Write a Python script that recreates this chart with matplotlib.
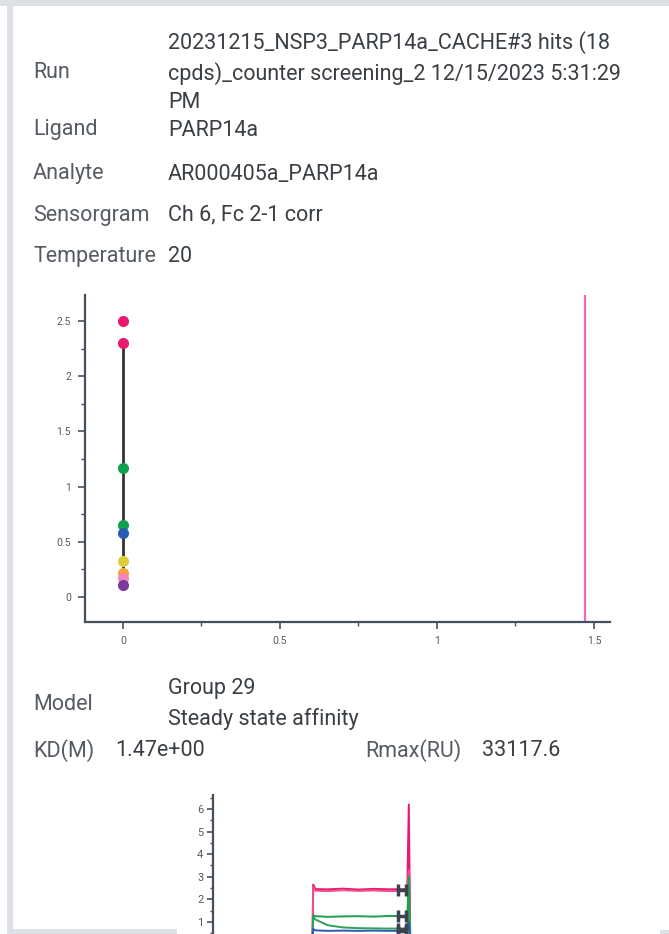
import numpy as np
import matplotlib.pyplot as plt
from matplotlib.patches import Rectangle
from matplotlib.ticker import MultipleLocator

# header info
info_labels = ["Run", "Ligand", "Analyte", "Sensorgram", "Temperature"]
info_values = ["20231215_NSP3_PARP14a_CACHE#3 hits (18\ncpds)_counter screening_2 12/15/2023 5:31:29\nPM",
               "PARP14a", "AR000405a_PARP14a", "Ch 6, Fc 2-1 corr", "20"]
model_lines = ["Group 29", "Steady state affinity"]
kd_text = "1.47e+00"
rmax_text = "33117.6"

# affinity plot: response at each concentration
conc = [0, 0, 0, 0, 0, 0, 0, 0, 0]
resp = [2.50, 2.30, 1.17, 0.65, 0.58, 0.33, 0.22, 0.17, 0.11]
point_colors = ['#e8196e', '#e8196e', '#13a04c', '#13a04c', '#2a5cb4',
                '#dccd3c', '#f5a23a', '#ef85bb', '#7a3a9c']
fit_x = [0, 0]
fit_y = [0.07, 2.30]
kd = 1.47

# sensorgram curves (time s, response RU)
sg_t = [-60, 0, 0.5, 2, 10, 20, 30, 40, 50, 62, 63, 64, 65, 70, 90]
sg_curves = {
    '#e8196e': [0, 0, 2.65, 2.45, 2.44, 2.47, 2.43, 2.46, 2.44, 2.45, 6.2, 0, 0, 0, 0],
    '#ee4f8f': [0, 0, 2.55, 2.38, 2.36, 2.40, 2.37, 2.39, 2.36, 2.38, 3.3, 0, 0, 0, 0],
    '#1ea04f': [0, 0, 1.28, 1.25, 1.22, 1.24, 1.25, 1.23, 1.26, 1.25, 3.0, 0, 0, 0, 0],
    '#2ea05a': [0, 0, 1.22, 1.10, 0.85, 0.75, 0.72, 0.71, 0.70, 0.70, 1.5, 0, 0, 0, 0],
    '#2a5cb4': [0, 0, 0.68, 0.62, 0.60, 0.61, 0.60, 0.61, 0.60, 0.60, 1.0, 0, 0, 0, 0],
}
report_t = [56, 61]
report_levels = [2.42, 1.24, 0.70, 0.60]

fig = plt.figure(figsize=(6.69, 9.34), dpi=100)
plt.rcParams['font.family'] = ['Roboto', 'DejaVu Sans']

W, H = 669.0, 934.0
def fx(px):
    return px / W
def fy(py):
    return 1 - py / H

# panel frame
frame = '#dde1e5'
fig.add_artist(Rectangle((0, fy(6)), 1, 6 / H, transform=fig.transFigure, color=frame, lw=0))
fig.add_artist(Rectangle((fx(7), 0), 6 / W, 1, transform=fig.transFigure, color=frame, lw=0))
fig.add_artist(Rectangle((fx(7), 0), 170 / W, 5 / H, transform=fig.transFigure, color=frame, lw=0))
fig.add_artist(Rectangle((fx(660), 0), 9 / W, 4 / H, transform=fig.transFigure, color=frame, lw=0))

label_c = '#555b61'
value_c = '#3a3f44'
fs = 15.5
rows_y = [72, 130, 174, 215, 256]
for lab, val, y in zip(info_labels, info_values, rows_y):
    fig.text(fx(33), fy(y), lab, fontsize=fs, color=label_c, va='center')
    fig.text(fx(168), fy(y), val, fontsize=fs, color=value_c, va='center',
             linespacing=1.45)

fig.text(fx(33), fy(705), "Model", fontsize=fs, color=label_c, va='center')
fig.text(fx(168), fy(704), "\n".join(model_lines), fontsize=fs, color=value_c,
         va='center', linespacing=1.55)
fig.text(fx(33), fy(751), "KD(M)", fontsize=fs, color=label_c, va='center')
fig.text(fx(115), fy(751), kd_text, fontsize=fs, color=value_c, va='center')
fig.text(fx(365), fy(751), "Rmax(RU)", fontsize=fs, color=label_c, va='center')
fig.text(fx(482), fy(751), rmax_text, fontsize=fs, color=value_c, va='center')

spine_c = '#45505a'
tick_c = '#555b61'

# affinity plot
ax = fig.add_axes([fx(85), fy(622), (610 - 85) / W, (622 - 295) / H])
ax.axvline(kd, color='#f06ab2', lw=1.6, zorder=1)
ax.plot(fit_x, fit_y, color='#333333', lw=2, zorder=2)
for x, y, c in zip(conc, resp, point_colors):
    ax.plot(x, y, 'o', color=c, ms=8, mec='none', zorder=3)
ax.set_xlim(-0.121, 1.551)
ax.set_ylim(-0.226, 2.735)
ax.set_xticks([0, 0.5, 1, 1.5])
ax.set_xticklabels(['0', '0.5', '1', '1.5'])
ax.set_yticks([0, 0.5, 1, 1.5, 2, 2.5])
ax.set_yticklabels(['0', '0.5', '1', '1.5', '2', '2.5'])
ax.xaxis.set_minor_locator(MultipleLocator(0.25))
ax.yaxis.set_minor_locator(MultipleLocator(0.25))
for s in ['top', 'right']:
    ax.spines[s].set_visible(False)
for s in ['left', 'bottom']:
    ax.spines[s].set_color(spine_c)
    ax.spines[s].set_linewidth(1.6)
ax.tick_params(which='major', length=5, width=1.2, color=spine_c, labelsize=7.5,
               labelcolor=tick_c, pad=5)
ax.tick_params(which='minor', length=3, width=1.0, color=spine_c)

# sensorgram inset (cut off at the bottom of the panel)
ax2 = fig.add_axes([fx(213), fy(985), (470 - 213) / W, (985 - 795) / H])
for c, r in sg_curves.items():
    ax2.plot(sg_t, r, color=c, lw=1.4, zorder=2)
for lvl in report_levels:
    ax2.plot(report_t, [lvl, lvl], color='#3a4450', lw=2.5, zorder=3)
    ax2.plot(report_t, [lvl, lvl], '|', color='#3a4450', ms=9, mew=2.5, zorder=3)
ax2.set_xlim(-65, 103)
ax2.set_ylim(-1.8, 6.62)
ax2.set_yticks([1, 2, 3, 4, 5, 6])
ax2.yaxis.set_minor_locator(MultipleLocator(0.5))
ax2.set_xticks([])
for s in ['top', 'right', 'bottom']:
    ax2.spines[s].set_visible(False)
ax2.spines['left'].set_color(spine_c)
ax2.spines['left'].set_linewidth(1.6)
ax2.tick_params(which='major', length=4, width=1.2, color=spine_c, labelsize=8,
                labelcolor=tick_c, pad=3)
ax2.tick_params(which='minor', length=2.5, width=1.0, color=spine_c)
ax2.patch.set_alpha(0)

fig.savefig('out.png', dpi=100)
